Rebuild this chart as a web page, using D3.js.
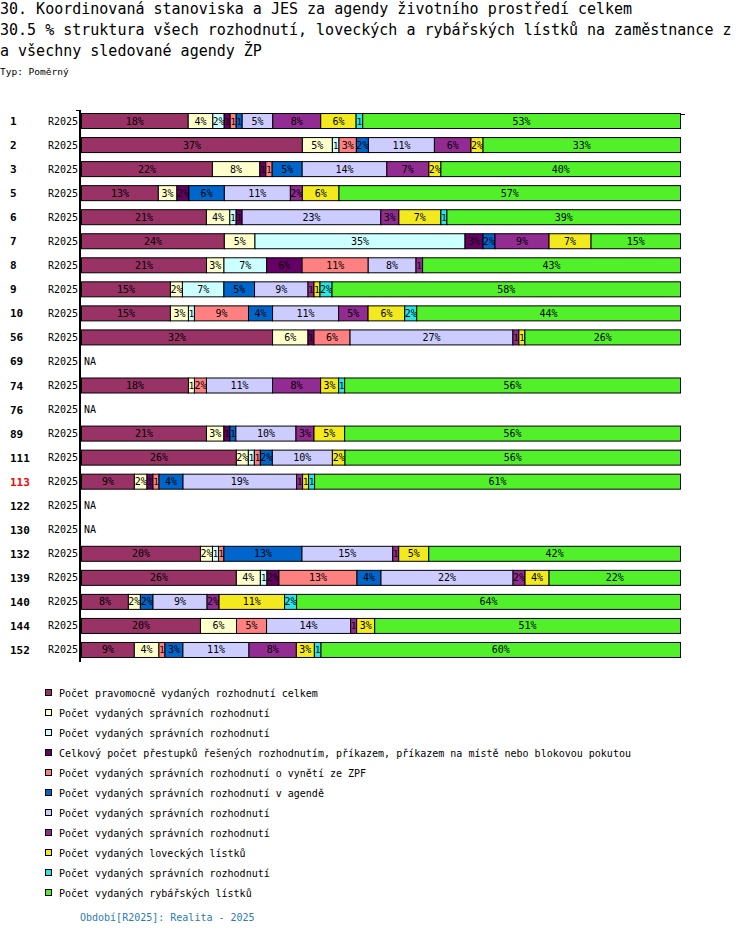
<!DOCTYPE html>
<html>
<head>
<meta charset="utf-8">
<script src="https://cdn.jsdelivr.net/npm/d3@7"></script>
<style>
    body { margin: 0; background: #fff; }
    text { font-family: "DejaVu Sans Mono", monospace; }
</style>
</head>
<body>
<div id="chart-area" style="width:750px;height:936px;"></div>
<script>

// ---- data ----
const titleLines = [
    "30. Koordinovaná stanoviska a JES za agendy životního prostředí celkem",
    "30.5 % struktura všech rozhodnutí, loveckých a rybářských lístků na zaměstnance z",
    "a všechny sledované agendy ŽP"
];
const chartType = "Typ: Poměrný";
const periodLabel = "R2025";
const footerText = "Období[R2025]: Realita - 2025";

const categories = ["1", "2", "3", "5", "6", "7", "8", "9", "10", "56", "69", "74", "76",
    "89", "111", "113", "122", "130", "132", "139", "140", "144", "152"];
const highlighted = ["113"];

const seriesNames = [
    "Počet pravomocně vydaných rozhodnutí celkem",
    "Počet vydaných správních rozhodnutí",
    "Počet vydaných správních rozhodnutí",
    "Celkový počet přestupků řešených rozhodnutím, příkazem, příkazem na místě nebo blokovou pokutou",
    "Počet vydaných správních rozhodnutí o vynětí ze ZPF",
    "Počet vydaných správních rozhodnutí v agendě",
    "Počet vydaných správních rozhodnutí",
    "Počet vydaných správních rozhodnutí",
    "Počet vydaných loveckých lístků",
    "Počet vydaných správních rozhodnutí",
    "Počet vydaných rybářských lístků"
];
const seriesColors = ["#993366", "#ffffcc", "#ccffff", "#660066", "#ff8080", "#0066cc",
    "#ccccff", "#922b92", "#f2ea1e", "#28e6e6", "#52f02a"];

// shares per series, same order as categories (null = NA)
const s1  = [17.8, 36.8, 21.8, 12.8, 20.8, 23.8, 20.8, 14.8, 14.8, 31.8, null, 17.8, null, 20.8, 25.8, 8.8, null, null, 19.8, 25.8, 7.8, 19.8, 8.8];
const s2  = [4.1, 5.0, 7.9, 3.1, 3.9, 5.1, 2.9, 2.0, 3.0, 5.9, null, 1.0, null, 2.9, 2.0, 2.1, null, null, 2.0, 4.0, 2.0, 6.0, 4.1];
const s3  = [1.9, 1.1, 0, 0, 1.05, 35.0, 7.1, 6.9, 1.0, 0, null, 0, null, 0, 1.0, 0, null, null, 1.0, 1.1, 0, 0, 0];
const s4  = [1.0, 0, 1.0, 2.0, 1.0, 3.0, 5.9, 0, 0, 1.0, null, 0, null, 1.0, 0, 1.0, null, null, 0, 2.0, 0, 0, 0];
const s5  = [1.0, 2.9, 1.05, 0, 0, 0, 11.0, 0, 9.0, 6.0, null, 2.0, null, 0, 1.0, 1.0, null, null, 0.9, 13.0, 0, 5.0, 1.0];
const s6  = [1.0, 2.0, 5.0, 5.9, 0, 2.0, 0, 5.1, 4.0, 0, null, 0, null, 1.0, 2.0, 4.0, null, null, 13.0, 4.0, 2.1, 0, 3.0];
const s7  = [5.1, 11.0, 14.1, 11.0, 23.1, 0, 7.95, 8.9, 11.0, 27.1, null, 11.0, null, 10.0, 10.0, 18.9, null, null, 15.1, 22.0, 9.0, 14.0, 11.0];
const s8  = [8.0, 6.1, 7.0, 2.0, 3.0, 9.0, 1.1, 1.0, 4.9, 1.0, null, 8.0, null, 3.0, 0, 1.0, null, null, 1.0, 2.0, 2.0, 1.0, 7.9];
const s9  = [5.9, 2.0, 2.0, 6.1, 7.0, 7.0, 0, 1.0, 6.1, 1.0, null, 3.0, null, 5.1, 2.1, 1.0, null, null, 5.0, 4.0, 10.9, 3.0, 3.0];
const s10 = [1.1, 0, 0, 0, 1.0, 0, 0, 2.0, 2.0, 0, null, 1.0, null, 0, 0, 1.0, null, null, 0, 0, 2.0, 0, 1.1];
const s11 = [53.0, 32.9, 39.9, 56.9, 38.9, 14.9, 42.9, 58.0, 43.9, 25.9, null, 55.9, null, 55.9, 55.9, 60.9, null, null, 41.9, 21.9, 63.9, 50.9, 59.9];
const seriesValues = [s1, s2, s3, s4, s5, s6, s7, s8, s9, s10, s11];


class StructureChart {

    constructor(parentElement) {
        this.parentElement = parentElement;
        this.initVis();
    }

    initVis() {
        let vis = this;

        vis.width = 750;
        vis.height = 936;

        vis.svg = d3.select("#" + vis.parentElement).append("svg")
            .attr("width", vis.width)
            .attr("height", vis.height);

        // titles
        vis.svg.selectAll(".title")
            .data(titleLines)
            .join("text")
            .attr("class", "title")
            .attr("x", 0)
            .attr("y", (d, i) => 14 + i * 21)
            .attr("font-size", 15)
            .text(d => d);

        vis.svg.append("text")
            .attr("x", 0)
            .attr("y", 75)
            .attr("font-size", 9.5)
            .text(chartType);

        vis.x = d3.scaleLinear().domain([0, 1]).range([81.5, 680.5]);
        vis.y = d3.scaleBand().domain(categories).range([109, 662]);
        vis.barH = 15;

        vis.wrangleData();
    }

    wrangleData() {
        let vis = this;

        vis.keys = seriesNames.map((d, i) => "s" + i);
        vis.rows = categories.map((c, r) => {
            let row = {cat: c, na: seriesValues[0][r] === null};
            vis.keys.forEach((k, i) => row[k] = seriesValues[i][r] || 0);
            return row;
        });

        // relative chart: every row sums to 1
        vis.stacked = d3.stack()
            .keys(vis.keys)
            .offset(d3.stackOffsetExpand)(vis.rows.filter(d => !d.na));

        vis.updateVis();
    }

    updateVis() {
        let vis = this;
        let bandMid = c => vis.y(c) + vis.y.bandwidth() / 2;
        let charW = 6.02;

        // row labels
        let labels = vis.svg.append("g").attr("class", "row-labels");
        labels.selectAll(".cat")
            .data(categories)
            .join("text")
            .attr("x", 10)
            .attr("y", d => bandMid(d) + 4)
            .attr("font-size", 11)
            .attr("font-weight", "bold")
            .attr("fill", d => highlighted.includes(d) ? "#ff0000" : "#000")
            .text(d => d);

        labels.selectAll(".period")
            .data(categories)
            .join("text")
            .attr("x", 78)
            .attr("y", d => bandMid(d) + 3.5)
            .attr("font-size", 10)
            .attr("text-anchor", "end")
            .text(periodLabel);

        // NA rows
        vis.svg.selectAll(".na")
            .data(vis.rows.filter(d => d.na))
            .join("text")
            .attr("x", 84)
            .attr("y", d => bandMid(d.cat) + 3.5)
            .attr("font-size", 10)
            .text("NA");

        // segments
        let defs = vis.svg.append("defs");
        let segs = [];
        vis.stacked.forEach((layer, i) => {
            layer.forEach(p => {
                if (p[1] - p[0] > 0) segs.push({i: i, cat: p.data.cat, x0: p[0], x1: p[1]});
            });
        });
        segs.forEach((s, j) => {
            s.id = "seg" + j;
            s.w = vis.x(s.x1) - vis.x(s.x0);
            // label is cut down to what fits into the segment
            let full = Math.round((s.x1 - s.x0) * 100) + "%";
            let n = Math.max(1, Math.min(full.length, Math.floor((s.w + 1.5) / charW)));
            s.label = full.slice(0, n);
        });

        defs.selectAll("clipPath")
            .data(segs)
            .join("clipPath")
            .attr("id", d => d.id)
            .append("rect")
            .attr("x", d => vis.x(d.x0))
            .attr("y", d => bandMid(d.cat) - vis.barH / 2)
            .attr("width", d => d.w)
            .attr("height", vis.barH);

        let g = vis.svg.append("g").attr("class", "bars");
        g.selectAll("rect")
            .data(segs)
            .join("rect")
            .attr("x", d => vis.x(d.x0))
            .attr("y", d => bandMid(d.cat) - vis.barH / 2)
            .attr("width", d => d.w)
            .attr("height", vis.barH)
            .attr("fill", d => seriesColors[d.i])
            .attr("stroke", "#000")
            .attr("stroke-width", 1);

        g.selectAll("text")
            .data(segs)
            .join("text")
            .attr("clip-path", d => `url(#${d.id})`)
            .attr("x", d => vis.x(d.x0) + d.w / 2)
            .attr("y", d => bandMid(d.cat) + 3.5)
            .attr("font-size", d => d.w < 8 ? 9 : 10)
            .attr("text-anchor", "middle")
            .text(d => d.label);

        // axis line
        vis.svg.append("line")
            .attr("x1", 80).attr("x2", 80)
            .attr("y1", 110).attr("y2", 662)
            .attr("stroke", "#000").attr("stroke-width", 2);
        vis.svg.append("line")
            .attr("x1", 76).attr("x2", 80)
            .attr("y1", 110.5).attr("y2", 110.5)
            .attr("stroke", "#000");
        vis.svg.append("line")
            .attr("x1", 680).attr("x2", 685)
            .attr("y1", 114.5).attr("y2", 114.5)
            .attr("stroke", "#000");

        // legend
        let legend = vis.svg.append("g").attr("class", "legend");
        let item = legend.selectAll("g")
            .data(seriesNames)
            .join("g")
            .attr("transform", (d, i) => `translate(45, ${693 + i * 20})`);
        item.append("rect")
            .attr("x", 0.5).attr("y", -3.5)
            .attr("width", 6).attr("height", 6)
            .attr("fill", (d, i) => seriesColors[i])
            .attr("stroke", "#000");
        item.append("text")
            .attr("x", 14)
            .attr("y", 3.5)
            .attr("font-size", 10)
            .text(d => d);

        vis.svg.append("text")
            .attr("x", 80)
            .attr("y", 921)
            .attr("font-size", 10)
            .attr("fill", "#2a7ab8")
            .text(footerText);
    }
}

new StructureChart("chart-area");
</script>
</body>
</html>
